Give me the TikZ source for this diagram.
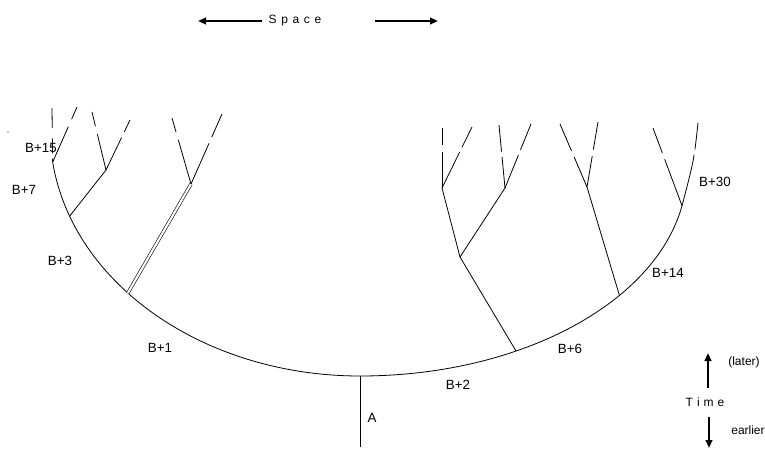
\documentclass[tikz,border=0pt]{standalone}
\usepackage{fontspec}
\setmainfont{Liberation Sans}
\usetikzlibrary{arrows.meta}
\begin{document}
\begin{tikzpicture}[x=0.75pt,y=-0.75pt,
  br/.style={line width=0.6pt},
  dbl/.style={double, double distance=1.6pt, line width=0.45pt},
  tipdash/.style 2 args={line width=0.6pt, dash pattern=on #1 off #2 on 2000pt},
  lbl/.style={font=\fontsize{10}{12}\selectfont, inner sep=0pt},
  sml/.style={font=\fontsize{9}{11}\selectfont, inner sep=0pt},
  bigarrow/.style={line width=1.4pt, -{Triangle[length=6pt,width=5pt]}}]
\useasboundingbox (0,0) rectangle (765,450);

% points on the arc (left: ellipse centre (360,130) radii 310/246; right: centre (360,170) radii 327/206)
\coordinate[shift={(360,130)}] (L3) at (172.5:310 and 246);
\coordinate[shift={(360,130)}] (L2) at (159.5:310 and 246);
\coordinate[shift={(360,130)}] (L1) at (138.5:310 and 246);
\coordinate (R0) at (360,376);
\coordinate[shift={(360,170)}] (R1) at (61.5:327 and 206);
\coordinate[shift={(360,170)}] (R2) at (37.5:327 and 206);
\coordinate[shift={(360,170)}] (R3) at (10:327 and 206);

% forks
\coordinate (LF1) at (191,184);
\coordinate (LF2) at (106,170);
\coordinate (RC) at (460,257);
\coordinate (RA) at (442,188);
\coordinate (RB) at (505,188);
\coordinate (RD) at (587,187);

% tips
\coordinate (t1) at (52,108);
\coordinate (t2) at (77,107);
\coordinate (t3) at (92,112);
\coordinate (t4) at (130,120);
\coordinate (t5) at (172,118);
\coordinate (t6) at (222,114);
\coordinate (t7) at (442,128);
\coordinate (t8) at (472,127);
\coordinate (t9) at (499,125);
\coordinate (t10) at (531,124);
\coordinate (t11) at (560,124);
\coordinate (t12) at (598,122);
\coordinate (t13) at (653,128);
\coordinate (t14) at (698,123);
\coordinate (A0) at (360,447);

% main arc
\draw[br] (L3) arc[start angle=172.5, end angle=90, x radius=310, y radius=246]
              arc[start angle=90, end angle=10, x radius=327, y radius=206];
\draw[br] (R0) -- (A0);

% left tree
\draw[line width=0.6pt, dash pattern=on 15pt off 8pt on 11pt off 4pt on 2000pt] (t1) -- (L3);
\draw[tipdash={10pt}{6pt}] (t2) -- (L3);
\draw[br] (L2) -- (LF2);
\draw[tipdash={11pt}{6pt}] (t3) -- (LF2);
\draw[tipdash={10pt}{4.5pt}] (t4) -- (LF2);
\draw[dbl] (L1) -- (LF1);
\draw[tipdash={11pt}{6pt}] (t5) -- (LF1);
\draw[tipdash={19pt}{5pt}] (t6) -- (LF1);

% right tree
\draw[br] (R1) -- (RC);
\draw[br] (RC) -- (RA);
\draw[br] (RC) -- (RB);
\draw[tipdash={13pt}{5pt}] (t7) -- (RA);
\draw[tipdash={17pt}{4pt}] (t8) -- (RA);
\draw[tipdash={20pt}{4pt}] (t9) -- (RB);
\draw[tipdash={21pt}{4pt}] (t10) -- (RB);
\draw[br] (R2) -- (RD);
\draw[tipdash={22pt}{5pt}] (t11) -- (RD);
\draw[tipdash={21pt}{5pt}] (t12) -- (RD);
\draw[tipdash={20pt}{5pt}] (t13) -- (R3);
\draw[tipdash={20pt}{4pt}] (t14) .. controls (694,160) .. (R3);

% stray dot
\fill (8,132) circle (0.5pt);

% labels
\node[lbl] (lb15) at (41,148) {B+15};
\node[lbl] (lb7) at (24,190) {B+7};
\node[lbl] (lb3) at (60,261) {B+3};
\node[lbl] (lb1) at (160,348) {B+1};
\node[lbl] (lb2) at (458,385) {B+2};
\node[lbl] (lb6) at (570,349) {B+6};
\node[lbl] (lb14) at (668,273) {B+14};
\node[lbl] (lb30) at (715,182) {B+30};
\node[lbl] (lA) at (372,418) {A};

% space
\node[sml] (space) at (295,21) {S\kern3.5pt p\kern3.5pt a\kern3.5pt c\kern3.5pt e};
\coordinate (sL0) at (262,21);
\coordinate (sL1) at (198,21);
\coordinate (sR0) at (375,21);
\coordinate (sR1) at (438,21);
\draw[bigarrow] (sL0) -- (sL1);
\draw[bigarrow] (sR0) -- (sR1);

% time
\node[sml] (time) at (705,402) {T\kern3pt i\kern3pt m\kern3pt e};
\node[sml] (later) at (744,362) {(later)};
\node[sml] (earlier) at (748,430) {earlier};
\coordinate (tU0) at (708,388);
\coordinate (tU1) at (708,353);
\coordinate (tD0) at (709,417);
\coordinate (tD1) at (709,448);
\draw[bigarrow] (tU0) -- (tU1);
\draw[bigarrow] (tD0) -- (tD1);
\end{tikzpicture}
\end{document}
